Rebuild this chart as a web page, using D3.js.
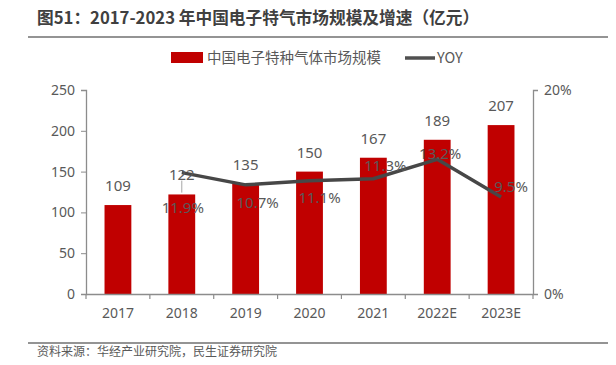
<!DOCTYPE html>
<html><head><meta charset="utf-8">
<script src="https://cdn.jsdelivr.net/npm/d3@7"></script>
<style>body{margin:0;background:#fff}svg{display:block;font-family:"Noto Sans CJK SC","Noto Sans",sans-serif}</style>
</head><body><svg id="c" width="616" height="365"></svg>
<script>
const categories = ["2017","2018","2019","2020","2021","2022E","2023E"];
const marketSize = [109,122,135,150,167,189,207];
const yoy = [null,11.9,10.7,11.1,11.3,13.2,9.5];
const leftTicks = [0,50,100,150,200,250];
const rightTicks = [0,20];

const svg = d3.select("#c");
const L = 86, R = 533, T = 90, B = 294;
const txt = "#595959";

const x = d3.scaleBand().domain(categories).range([L,R]).paddingInner(0.58).paddingOuter(0.29);
const xb = d3.scaleBand().domain(categories).range([L,R]);
const y = d3.scaleLinear().domain([0,250]).range([B,T]);
const y2 = d3.scaleLinear().domain([0,20]).range([B,T]);

// title
svg.append("text").attr("x",37).attr("y",24).attr("font-size",16.7).attr("font-weight","bold").attr("fill","#404040")
  .text("图51：2017-2023 年中国电子特气市场规模及增速（亿元）");
svg.append("line").attr("x1",28).attr("x2",608).attr("y1",37).attr("y2",37).attr("stroke","#707070").attr("stroke-width",1.5);

// legend
svg.append("rect").attr("x",171).attr("y",52).attr("width",32).attr("height",11).attr("fill","#C00000");
svg.append("text").attr("x",207).attr("y",63).attr("font-size",14.5).attr("fill",txt).text("中国电子特种气体市场规模");
svg.append("line").attr("x1",405).attr("x2",435).attr("y1",58).attr("y2",58).attr("stroke","#505050").attr("stroke-width",3.5);
svg.append("text").attr("x",437).attr("y",63).attr("font-size",14.5).attr("fill",txt).text("YOY");

// bars
svg.selectAll("rect.bar").data(categories).enter().append("rect").attr("class","bar")
  .attr("x",d=>x(d)).attr("width",x.bandwidth())
  .attr("y",(d,i)=>y(marketSize[i])).attr("height",(d,i)=>B-y(marketSize[i]))
  .attr("fill","#C00000");

// axes
const axisColor = "#8c8c8c";
const gx = svg.append("g").attr("transform",`translate(0,${B})`)
  .call(d3.axisBottom(xb).tickSize(0).tickPadding(14));
gx.select(".domain").attr("stroke",axisColor).attr("stroke-width",1.3);
gx.selectAll("text").attr("font-size",14).attr("fill",txt).attr("font-family","'Noto Sans',sans-serif");
const bounds = categories.map(c=>xb(c)).concat([R]);
svg.selectAll("line.xt").data(bounds).enter().append("line")
  .attr("x1",d=>d).attr("x2",d=>d).attr("y1",B).attr("y2",B+5).attr("stroke",axisColor).attr("stroke-width",1.2);

const gl = svg.append("g").attr("transform",`translate(${L},0)`)
  .call(d3.axisLeft(y).tickValues(leftTicks).tickSize(5).tickPadding(6));
gl.select(".domain").attr("stroke",axisColor).attr("stroke-width",1.3);
gl.selectAll("line").attr("stroke",axisColor);
gl.selectAll("text").attr("font-size",14).attr("fill",txt).attr("font-family","'Noto Sans',sans-serif");

const gr = svg.append("g").attr("transform",`translate(${R},0)`)
  .call(d3.axisRight(y2).tickValues(rightTicks).tickSize(5).tickPadding(6).tickFormat(d=>d+"%"));
gr.select(".domain").attr("stroke",axisColor).attr("stroke-width",1.3);
gr.selectAll("line").attr("stroke",axisColor);
gr.selectAll("text").attr("font-size",14).attr("fill",txt).attr("font-family","'Noto Sans',sans-serif");

// line
const cx = c => xb(c)+xb.bandwidth()/2;
const pts = categories.map((c,i)=>({c,v:yoy[i]})).filter(d=>d.v!==null);
svg.append("path").datum(pts)
  .attr("d",d3.line().x(d=>cx(d.c)).y(d=>y2(d.v)))
  .attr("fill","none").attr("stroke","#474747").attr("stroke-width",3.5).attr("stroke-linejoin","round");

// leader line for 2018 label
svg.append("line").attr("x1",cx("2018")).attr("x2",cx("2018")).attr("y1",y2(11.9)+8).attr("y2",y2(11.9)+20)
  .attr("stroke","#a6a6a6").attr("stroke-width",1);

// bar value labels
svg.selectAll("text.bv").data(categories).enter().append("text").attr("class","bv")
  .attr("x",d=>cx(d)).attr("y",(d,i)=>y(marketSize[i])-14)
  .attr("text-anchor","middle").attr("font-size",15).attr("fill",txt).attr("font-family","'Noto Sans',sans-serif")
  .text((d,i)=>marketSize[i]);

// yoy labels (offsets from point)
const lblOff = [null,[1,40],[12,23],[10,22],[12,-8],[3,0],[10,-5]];
svg.selectAll("text.yv").data(pts).enter().append("text").attr("class","yv")
  .attr("x",d=>cx(d.c)+lblOff[categories.indexOf(d.c)][0])
  .attr("y",d=>y2(d.v)+lblOff[categories.indexOf(d.c)][1])
  .attr("text-anchor","middle").attr("font-size",15).attr("fill",txt).attr("font-family","'Noto Sans',sans-serif")
  .text(d=>d.v.toFixed(1)+"%");

// footer
svg.append("line").attr("x1",28).attr("x2",608).attr("y1",343).attr("y2",343).attr("stroke","#707070").attr("stroke-width",1.5);
svg.append("text").attr("x",37).attr("y",356).attr("font-size",12).attr("fill",txt).text("资料来源：华经产业研究院，民生证券研究院");
</script></body></html>
